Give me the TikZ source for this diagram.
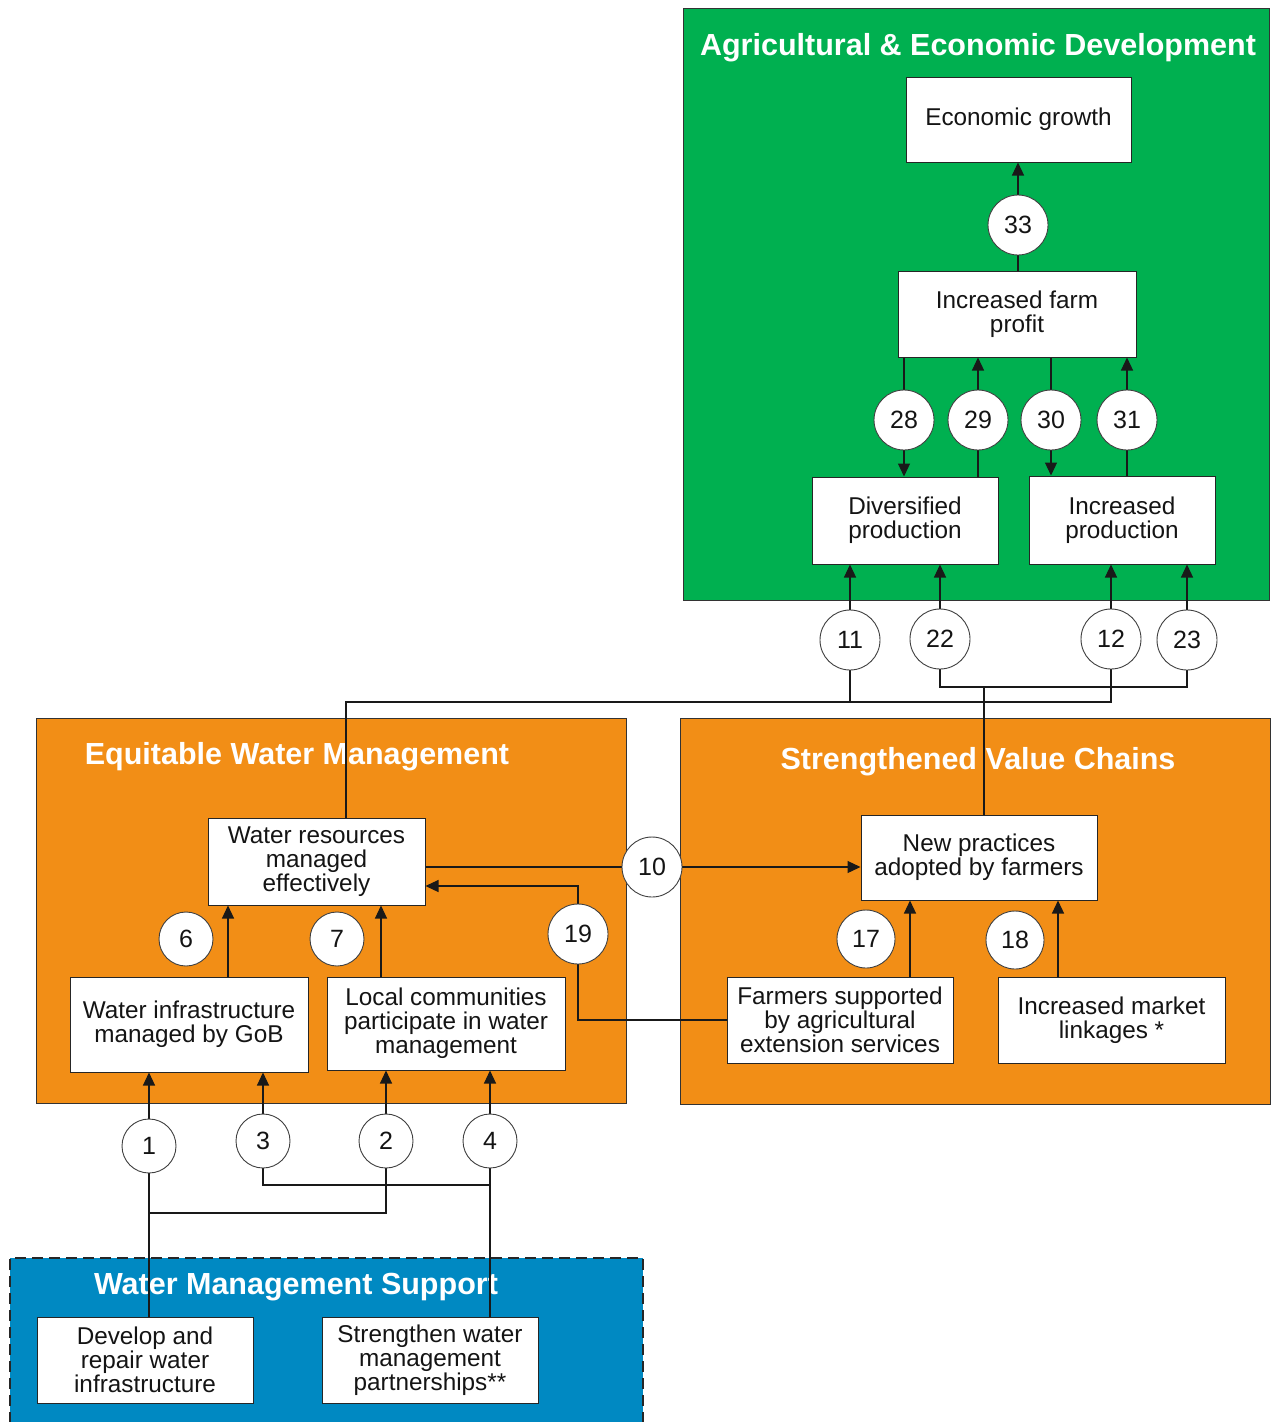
\documentclass[tikz,border=0pt]{standalone}
\usepackage{fontspec}
\setmainfont{Liberation Sans}
\usetikzlibrary{arrows.meta}
\definecolor{agrigreen}{RGB}{0,176,80}
\definecolor{waterorange}{RGB}{242,142,22}
\definecolor{supportblue}{RGB}{0,137,194}
\definecolor{inkgray}{RGB}{20,20,20}
\begin{document}
\begin{tikzpicture}[x=1pt,y=-1pt,
  area/.style={draw=black!80, line width=1pt},
  areatitle/.style={text=white, font=\fontsize{30.5}{32}\selectfont\bfseries},
  box/.style={draw=black!85, fill=white, line width=1pt, align=center, inner sep=0pt,
    text=inkgray, font=\fontsize{24.3}{24}\selectfont},
  numc/.style={circle, draw=black!75, fill=white, line width=0.9pt, inner sep=0pt,
    minimum size=60pt, text=inkgray, font=\fontsize{25}{25}\selectfont},
  numsmall/.style={numc, minimum size=54pt},
  link/.style={draw=black!90, line width=1.2pt},
  arr/.style={link, -{Triangle[width=12pt,length=13pt]}}]

\clip (0,0) rectangle (1273,1422);
\fill[white] (0,0) rectangle (1273,1422);

% outcome areas
\filldraw[area, fill=agrigreen] (683,8) rectangle (1269,600);
\filldraw[area, fill=waterorange] (36,718) rectangle (626,1103);
\filldraw[area, fill=waterorange] (680,718) rectangle (1270,1104);
\fill[supportblue] (10,1258) rectangle (643,1440);
\draw[black!85, line width=2.2pt, dash pattern=on 11pt off 6pt] (10,1440) -- (10,1258) -- (643,1258) -- (643,1440);

\node[areatitle] (tagri) at (978,48) {Agricultural \& Economic Development};
\node[areatitle] (tequit) at (297,757) {Equitable Water Management};
\node[areatitle] (tvalue) at (978,762) {Strengthened Value Chains};
\node[areatitle] (tsupport) at (296,1287) {Water Management Support};

% result boxes
\node[box, minimum width=225pt, minimum height=85pt] (eco) at (1018.5,119.5) {Economic growth};
\node[box, minimum width=238pt, minimum height=86pt] (profit) at (1017,314) {Increased farm\\profit};
\node[box, minimum width=186pt, minimum height=87pt] (div) at (905,520.5) {Diversified\\production};
\node[box, minimum width=186pt, minimum height=88pt] (incprod) at (1122,520) {Increased\\production};
\node[box, minimum width=217pt, minimum height=87pt] (wres) at (316.5,861.5) {Water resources\\managed\\effectively};
\node[box, minimum width=238pt, minimum height=95pt] (winfra) at (189,1024.5) {Water infrastructure\\managed by GoB};
\node[box, minimum width=238pt, minimum height=93pt] (local) at (446,1023.5) {Local communities\\participate in water\\management};
\node[box, minimum width=236pt, minimum height=85pt] (newp) at (979,857.5) {New practices\\adopted by farmers};
\node[box, minimum width=226pt, minimum height=86pt] (farmers) at (840,1020) {Farmers supported\\by agricultural\\extension services};
\node[box, minimum width=227pt, minimum height=86pt] (market) at (1111.5,1020) {Increased market\\linkages *};
\node[box, minimum width=216pt, minimum height=86pt] (develop) at (145,1360) {Develop and\\repair water\\infrastructure};
\node[box, minimum width=216pt, minimum height=86pt] (strengthen) at (430,1360) {Strengthen water\\management\\partnerships**};

% positions of the numbered links
\coordinate (c33) at (1018,225);
\coordinate (c28) at (904,420);
\coordinate (c29) at (978,420);
\coordinate (c30) at (1051,420);
\coordinate (c31) at (1127,420);
\coordinate (c11) at (850,640);
\coordinate (c22) at (940,639);
\coordinate (c12) at (1111,639);
\coordinate (c23) at (1187,640);
\coordinate (c10) at (652,867);
\coordinate (c19) at (578,934);
\coordinate (c1) at (149,1146);
\coordinate (c3) at (263,1141);
\coordinate (c2) at (386,1141);
\coordinate (c4) at (490,1141);
% routing helpers
\coordinate (x6) at (228,0);
\coordinate (x7) at (381,0);
\coordinate (x17) at (910,0);
\coordinate (x18) at (1058,0);
\coordinate (xres) at (346,0);
\coordinate (xnew) at (984,0);
\coordinate (h702) at (0,702);
\coordinate (h687) at (0,687);
\coordinate (h886) at (0,886);
\coordinate (h1185) at (0,1185);
\coordinate (h1213) at (0,1213);

% connectors
\draw[arr] (profit.north -| c33) -- (eco.south -| c33);
\draw[arr] (profit.south -| c28) -- (div.north -| c28);
\draw[arr] (div.north -| c29) -- (profit.south -| c29);
\draw[arr] (profit.south -| c30) -- (incprod.north -| c30);
\draw[arr] (incprod.north -| c31) -- (profit.south -| c31);

\draw[arr] (c11) -- (div.south -| c11);
\draw[arr] (c22) -- (div.south -| c22);
\draw[arr] (c12) -- (incprod.south -| c12);
\draw[arr] (c23) -- (incprod.south -| c23);

\draw[link] (wres.north -| xres) -- (xres |- h702) -- (c12 |- h702) -- (c12);
\draw[link] (c11) -- (c11 |- h702);
\draw[link] (c22) -- (c22 |- h687) -- (c23 |- h687) -- (c23);
\draw[link] (newp.north -| xnew) -- (xnew |- h687);

\draw[arr] (wres.east |- c10) -- (newp.west |- c10);
\draw[arr] (farmers.west) -- (c19 |- farmers.west) -- (c19 |- h886) -- (wres.east |- h886);

\draw[arr] (winfra.north -| x6) -- (wres.south -| x6);
\draw[arr] (local.north -| x7) -- (wres.south -| x7);
\draw[arr] (farmers.north -| x17) -- (newp.south -| x17);
\draw[arr] (market.north -| x18) -- (newp.south -| x18);

\draw[arr] (develop.north -| c1) -- (winfra.south -| c1);
\draw[link] (c1 |- h1213) -- (c2 |- h1213) -- (c2);
\draw[arr] (c2) -- (local.south -| c2);
\draw[arr] (strengthen.north -| c4) -- (local.south -| c4);
\draw[link] (c4 |- h1185) -- (c3 |- h1185) -- (c3);
\draw[arr] (c3) -- (winfra.south -| c3);

% numbered link markers
\node[numc] (n33) at (c33) {33};
\node[numc] (n28) at (c28) {28};
\node[numc] (n29) at (c29) {29};
\node[numc] (n30) at (c30) {30};
\node[numc] (n31) at (c31) {31};
\node[numc] (n11) at (c11) {11};
\node[numc] (n22) at (c22) {22};
\node[numc] (n12) at (c12) {12};
\node[numc] (n23) at (c23) {23};
\node[numc] (n10) at (c10) {10};
\node[numc] (n19) at (c19) {19};
\node[numsmall] (n6) at (186,939) {6};
\node[numsmall] (n7) at (337,939) {7};
\node[numc, minimum size=58pt] (n17) at (866,939) {17};
\node[numc, minimum size=58pt] (n18) at (1015,940) {18};
\node[numsmall] (n1) at (c1) {1};
\node[numsmall] (n3) at (c3) {3};
\node[numsmall] (n2) at (c2) {2};
\node[numsmall] (n4) at (c4) {4};
\end{tikzpicture}
\end{document}
